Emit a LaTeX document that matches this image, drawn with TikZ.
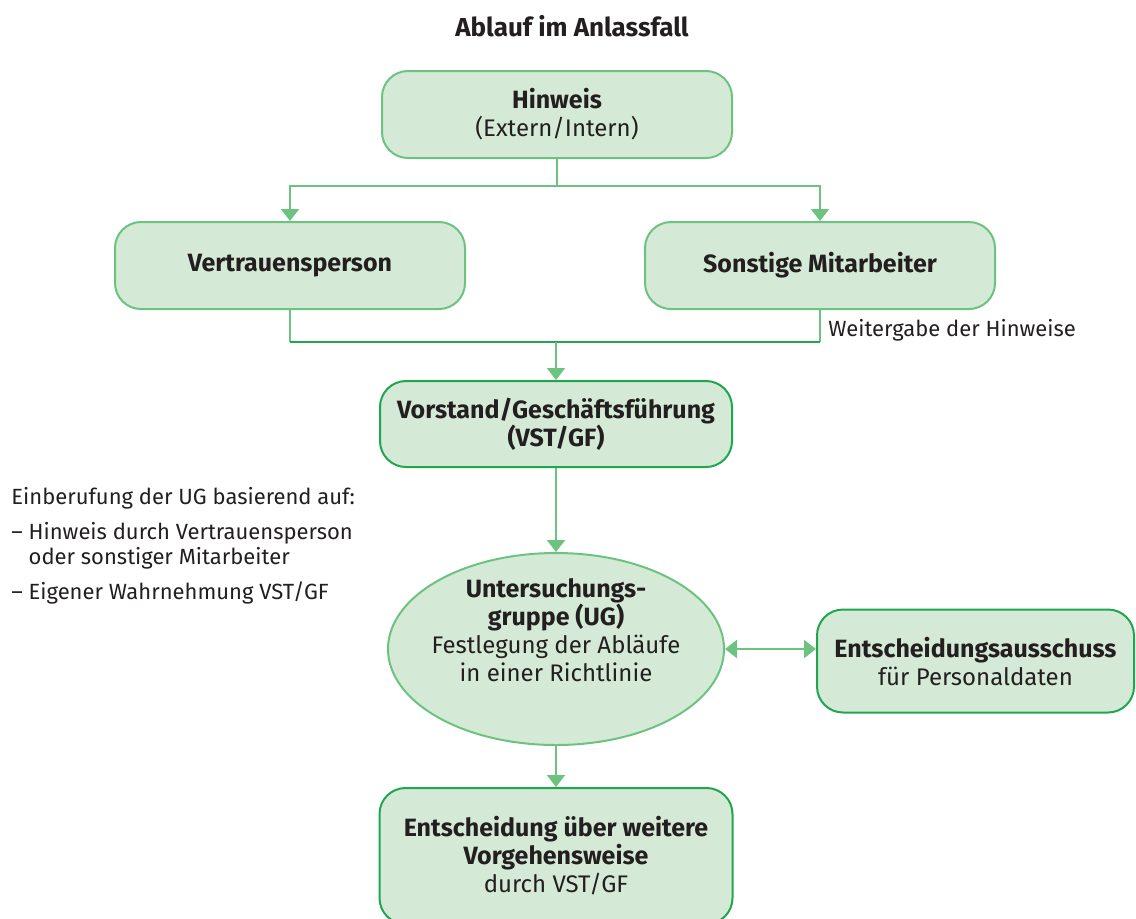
\documentclass[tikz,border=0pt]{standalone}
\usepackage{fontspec}
\setmainfont{Fira Sans}
\usetikzlibrary{arrows.meta,shapes.geometric}

\definecolor{boxfill}{HTML}{D5EAD6}
\definecolor{lightline}{HTML}{6CC37F}
\definecolor{darkline}{HTML}{1FA64F}
\definecolor{textgray}{HTML}{231F20}

\newcommand{\bhead}[1]{{\fontsize{12.5}{14.5}\selectfont\bfseries #1}}

\tikzset{
  flowtext/.style={text=textgray, align=center, inner sep=0pt, font=\fontsize{12}{14}\selectfont},
  sidetext/.style={flowtext, font=\fontsize{11}{12.5}\selectfont},
  flowbox/.style={flowtext, rectangle, rounded corners=13pt, draw=lightline, fill=boxfill, line width=1pt},
  darkbox/.style={flowbox, draw=darkline},
  ugshape/.style={ellipse, draw=lightline, fill=boxfill, line width=1pt, inner sep=0pt},
  flowline/.style={draw=lightline, line width=1pt},
  mergeline/.style={draw=darkline, line width=1.2pt},
  flowarrow/.style={flowline, -{Triangle[width=9pt,length=6pt]}},
  bothways/.style={flowline, {Triangle[width=9pt,length=6pt]}-{Triangle[width=9pt,length=6pt]}},
}

\begin{document}
\begin{tikzpicture}[x=0.5pt,y=-0.5pt]
\useasboundingbox (0,0) rectangle (1136,918);

% title
\node[flowtext, font=\fontsize{13}{15}\selectfont\bfseries] (title) at (572,26) {Ablauf im Anlassfall};

% boxes
\node[flowbox, minimum width=175pt, minimum height=43.5pt] (hinweis) at (557,114.5) {\bhead{Hinweis}\\(Extern/Intern)};
\node[flowbox, minimum width=175pt, minimum height=43.5pt] (vertrauen) at (290,265.5) {\bhead{Vertrauensperson}};
\node[flowbox, minimum width=175pt, minimum height=43.5pt] (sonstige) at (820,265.5) {\bhead{Sonstige Mitarbeiter}};
\node[darkbox, minimum width=176pt, minimum height=43pt] (vorstand) at (556,424) {\bhead{Vorstand/Geschäftsführung}\\\bhead{(VST/GF)}};
\node[ugshape, minimum width=168pt, minimum height=96pt] (ug) at (556,649) {};
\node[flowtext] (ugtext) at (556,630) {\bhead{Untersuchungs-}\\\bhead{gruppe (UG)}\\Festlegung der Abläufe\\in einer Richtlinie};
\node[darkbox, minimum width=158.5pt, minimum height=51.5pt] (ausschuss) at (975.5,661) {\bhead{Entscheidungsausschuss}\\für Personaldaten};
\node[darkbox, minimum width=176.5pt, minimum height=68pt] (entscheidung) at (556,856) {\bhead{Entscheidung über weitere}\\\bhead{Vorgehensweise}\\durch VST/GF};

% side note
\node[sidetext, align=left, anchor=north west] (einberufung) at (11,487) {Einberufung der UG basierend auf:\\[5pt]
– Hinweis durch Vertrauensperson\\
\phantom{– }oder sonstiger Mitarbeiter\\[5pt]
– Eigener Wahrnehmung VST/GF};

% split from Hinweis
\coordinate (split) at (hinweis.south |- 0,186);
\draw[flowline] (hinweis.south) -- (split);
\draw[flowarrow] (split) -| (vertrauen.north);
\draw[flowarrow] (split) -| (sonstige.north);

% merge to Vorstand
\coordinate (merge) at (vorstand.north |- 0,342);
\draw[flowline] (vertrauen.south) -- (vertrauen.south |- merge);
\draw[flowline] (sonstige.south) -- (sonstige.south |- merge);
\draw[mergeline] (vertrauen.south |- merge) -- (sonstige.south |- merge);
\draw[flowarrow] (merge) -- (vorstand.north);
\node[sidetext, anchor=west] (weitergabe) at (828,330) {Weitergabe der Hinweise};

% down the chain
\draw[flowarrow] (vorstand.south) -- (ug.north);
\draw[flowarrow] (ug.south) -- (entscheidung.north);
\draw[bothways] (ug.east) -- (ug.east -| ausschuss.west);
\end{tikzpicture}
\end{document}
